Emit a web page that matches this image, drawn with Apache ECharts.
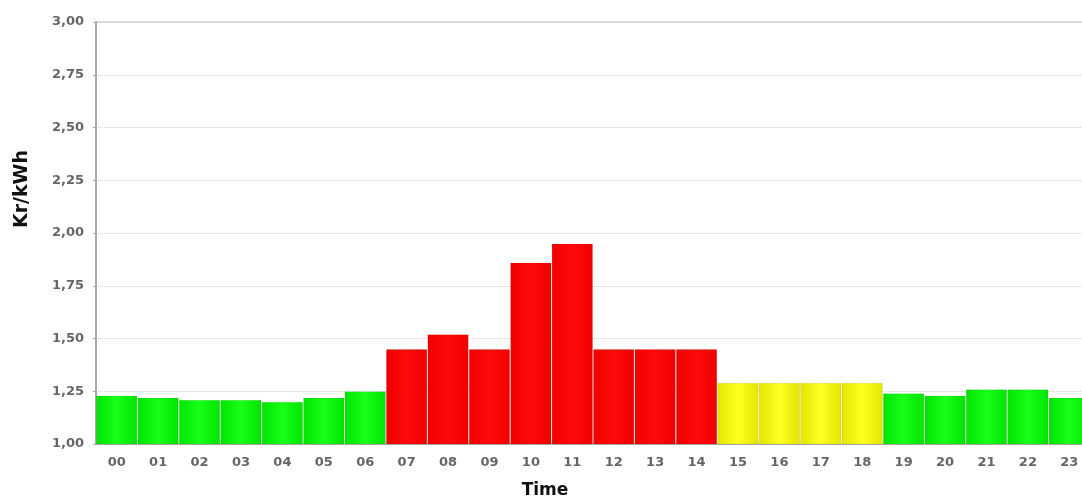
<!DOCTYPE html>
<html><head><meta charset="utf-8">
<script src="https://cdn.jsdelivr.net/npm/echarts@6/dist/echarts.min.js"></script>
<style>html,body{margin:0;padding:0;background:#fff;overflow:hidden}#c{width:1082px;height:499px}</style>
</head><body><div id="c"></div>
<script>
const hours = ['00','01','02','03','04','05','06','07','08','09','10','11','12','13','14','15','16','17','18','19','20','21','22','23'];
const prices = [1.23,1.22,1.21,1.21,1.20,1.22,1.25,1.45,1.52,1.45,1.86,1.95,1.45,1.45,1.45,1.29,1.29,1.29,1.29,1.24,1.23,1.26,1.26,1.22];
const tiers = ['low','low','low','low','low','low','low','high','high','high','high','high','high','high','high','mid','mid','mid','mid','low','low','low','low','low'];
const yMin = 1, yMax = 3, yStep = 0.25;

const palette = {
  low:  ['#00e400', '#19ff19'],
  mid:  ['#e4e400', '#ffff22'],
  high: ['#f00000', '#ff0a0a']
};
function fill(t){
  const p = palette[t];
  return new echarts.graphic.LinearGradient(0,0,1,0,[
    {offset:0,color:p[0]},{offset:0.5,color:p[1]},{offset:1,color:p[0]}]);
}
const chart = echarts.init(document.getElementById('c'), null, {renderer:'canvas'});
chart.setOption({
  animation:false,
  grid:{left:96, top:22, width:994, height:422, show:true, borderColor:'#b8b8b8', borderWidth:1,
        containLabel:false, outerBoundsMode:'none'},
  xAxis:{
    type:'category', data:hours,
    name:'Time', nameLocation:'middle', nameGap:38,
    nameTextStyle:{fontFamily:'DejaVu Sans', fontWeight:'bold', fontSize:17, color:'#111', padding:[0,96,0,0]},
    axisLine:{lineStyle:{color:'#aaa'}},
    axisTick:{show:false},
    axisLabel:{fontFamily:'DejaVu Sans', fontWeight:'bold', fontSize:13, color:'#666', margin:12}
  },
  yAxis:{
    type:'value', min:yMin, max:yMax, interval:yStep,
    name:'Kr/kWh', nameLocation:'middle', nameGap:64,
    nameTextStyle:{fontFamily:'DejaVu Sans', fontWeight:'bold', fontSize:19, color:'#111', padding:[0,0,0,88]},
    axisLine:{show:true, lineStyle:{color:'#aaa', width:2}},
    axisTick:{show:true, length:3, lineStyle:{color:'#aaa'}},
    axisLabel:{fontFamily:'DejaVu Sans', fontWeight:'bold', fontSize:13, color:'#666', margin:12,
      formatter:v=>v.toFixed(2).replace('.',',')},
    splitLine:{show:true, lineStyle:{color:'#d4d4d4', type:'dotted', width:1}}
  },
  series:[{
    type:'bar', barCategoryGap:'0%',
    data:prices.map((v,i)=>({value:v, itemStyle:{color:fill(tiers[i])}})),
    itemStyle:{borderColor:'rgba(0,0,0,0.07)', borderWidth:1}
  }]
});
</script></body></html>
